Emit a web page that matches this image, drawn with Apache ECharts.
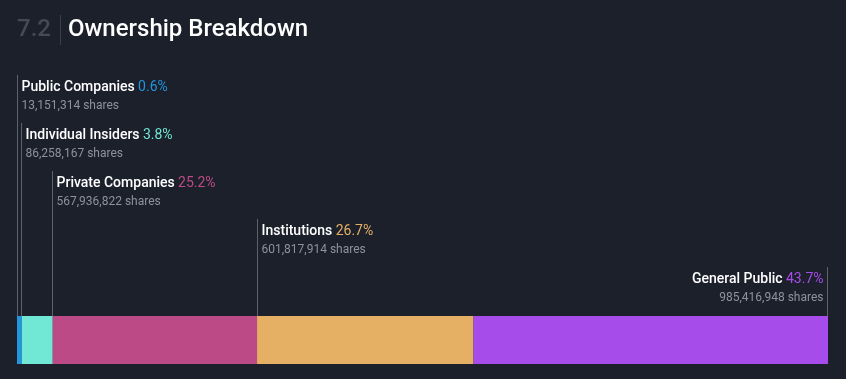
<!DOCTYPE html>
<html><head><meta charset="utf-8">
<script src="https://cdn.jsdelivr.net/npm/echarts@6/dist/echarts.min.js"></script>
<style>html,body{margin:0;padding:0;background:#1b202b;}#c{width:846px;height:379px;}</style>
</head><body><div id="c"></div>
<script>
const categories = ['Public Companies', 'Individual Insiders', 'Private Companies', 'Institutions', 'General Public'];
const shares = [13151314, 86258167, 567936822, 601817914, 985416948];
const percents = ['0.6%', '3.8%', '25.2%', '26.7%', '43.7%'];
const colors = ['#2394df', '#71e7d6', '#bc4a86', '#e5b064', '#a64cea'];
const sectionNumber = '7.2';
const titleText = 'Ownership Breakdown';

const total = shares.reduce((a, b) => a + b, 0);
const chart = echarts.init(document.getElementById('c'));
const FONT = 'Roboto, "Noto Sans", sans-serif';
const barTop = 316, barH = 48;

chart.setOption({
  backgroundColor: '#1b202b',
  animation: false,
  grid: { left: 17, right: 18, top: barTop, height: barH },
  xAxis: { type: 'value', min: 0, max: total, show: false },
  yAxis: { type: 'category', data: [''], show: false },
  series: categories.map((c, i) => ({
    name: c, type: 'bar', stack: 'own', barCategoryGap: 0, barWidth: barH,
    data: [shares[i]], itemStyle: { color: colors[i] }, silent: true
  }))
});

const graphics = [
  { type: 'text', x: 17, y: 30, style: { text: sectionNumber, fill: '#454a55', font: '500 24px ' + FONT, verticalAlign: 'middle' } },
  { type: 'line', shape: { x1: 60.5, y1: 15, x2: 60.5, y2: 45 }, style: { stroke: '#3a3f4a', lineWidth: 1 } },
  { type: 'text', x: 68, y: 30, style: { text: titleText, fill: '#ffffff', font: '500 24px ' + FONT, verticalAlign: 'middle' } }
];

let cum = 0;
categories.forEach((c, i) => {
  const last = i === categories.length - 1;
  const edge = last ? cum + shares[i] : cum;
  let px = chart.convertToPixel({ xAxisIndex: 0 }, edge);
  px = Math.round(px - 0.5) + 0.5;
  if (last) px -= 1;
  const top = 75 + i * 48;
  graphics.push({ type: 'line', shape: { x1: px, y1: top, x2: px, y2: barTop }, style: { stroke: '#5c616c', lineWidth: 1 } });
  const tx = last ? px - 4 : px + 4;
  const align = last ? 'right' : 'left';
  graphics.push({ type: 'text', x: tx, y: top + 12, style: {
    text: '{n|' + c + '} {p|' + percents[i] + '}', align: align, verticalAlign: 'middle',
    rich: { n: { fill: '#ffffff', font: '500 14px ' + FONT }, p: { fill: colors[i], font: '400 14px ' + FONT } }
  } });
  graphics.push({ type: 'text', x: tx, y: top + 31, style: {
    text: shares[i].toLocaleString('en-US') + ' shares', align: align, verticalAlign: 'middle',
    fill: '#8e929a', font: '400 12px ' + FONT
  } });
  cum += shares[i];
});
chart.setOption({ graphic: graphics });
</script></body></html>
